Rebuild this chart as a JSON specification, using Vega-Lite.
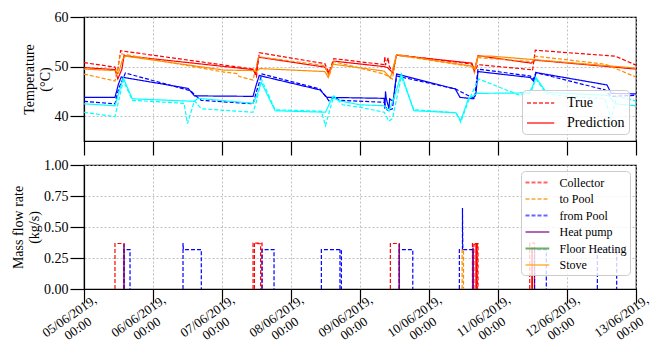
{
"$schema": "https://vega.github.io/schema/vega-lite/v6.json",
"padding": {"left": 10, "top": 9, "right": 5, "bottom": 0},
"background": "white",
"spacing": 0,
"datasets": {
"temp": [
{"s":"T1","k":"Prediction","d":0,"v":49.8},{"s":"T1","k":"Prediction","d":0.449,"v":49.4},{"s":"T1","k":"Prediction","d":0.49,"v":47.5},{"s":"T1","k":"Prediction","d":0.55,"v":49.5},{"s":"T1","k":"Prediction","d":0.58,"v":52.2},{"s":"T1","k":"Prediction","d":2.45,"v":49.4},{"s":"T1","k":"Prediction","d":2.49,"v":48.5},{"s":"T1","k":"Prediction","d":2.53,"v":51.9},{"s":"T1","k":"Prediction","d":3.49,"v":49.9},{"s":"T1","k":"Prediction","d":3.55,"v":48.5},{"s":"T1","k":"Prediction","d":3.62,"v":51.1},{"s":"T1","k":"Prediction","d":4.35,"v":50.0},{"s":"T1","k":"Prediction","d":4.4,"v":49.8},{"s":"T1","k":"Prediction","d":4.47,"v":48.8},{"s":"T1","k":"Prediction","d":4.53,"v":52.3},{"s":"T1","k":"Prediction","d":5.62,"v":50.7},{"s":"T1","k":"Prediction","d":5.66,"v":49.2},{"s":"T1","k":"Prediction","d":5.71,"v":52.2},{"s":"T1","k":"Prediction","d":6.48,"v":50.7},{"s":"T1","k":"Prediction","d":6.54,"v":51.3},{"s":"T1","k":"Prediction","d":8.0,"v":49.5},
{"s":"T1","k":"True","d":0,"v":50.8},{"s":"T1","k":"True","d":0.449,"v":49.9},{"s":"T1","k":"True","d":0.48,"v":48.5},{"s":"T1","k":"True","d":0.53,"v":53.2},{"s":"T1","k":"True","d":2.45,"v":49.5},{"s":"T1","k":"True","d":2.5,"v":48.0},{"s":"T1","k":"True","d":2.54,"v":52.8},{"s":"T1","k":"True","d":3.49,"v":50.6},{"s":"T1","k":"True","d":3.55,"v":48.8},{"s":"T1","k":"True","d":3.62,"v":51.6},{"s":"T1","k":"True","d":4.35,"v":50.4},{"s":"T1","k":"True","d":4.36,"v":52.0},{"s":"T1","k":"True","d":4.37,"v":50.3},{"s":"T1","k":"True","d":4.41,"v":51.8},{"s":"T1","k":"True","d":4.42,"v":50.2},{"s":"T1","k":"True","d":4.48,"v":48.7},{"s":"T1","k":"True","d":4.53,"v":52.4},{"s":"T1","k":"True","d":5.62,"v":50.5},{"s":"T1","k":"True","d":5.66,"v":49.0},{"s":"T1","k":"True","d":5.71,"v":50.4},{"s":"T1","k":"True","d":6.47,"v":49.4},{"s":"T1","k":"True","d":6.5,"v":49.2},{"s":"T1","k":"True","d":6.54,"v":53.3},{"s":"T1","k":"True","d":7.7,"v":52.1},{"s":"T1","k":"True","d":8.0,"v":50.3},
{"s":"T2","k":"Prediction","d":0,"v":49.5},{"s":"T2","k":"Prediction","d":0.449,"v":49.2},{"s":"T2","k":"Prediction","d":0.5,"v":48.7},{"s":"T2","k":"Prediction","d":0.56,"v":51.5},{"s":"T2","k":"Prediction","d":0.6,"v":52.1},{"s":"T2","k":"Prediction","d":2.03,"v":49.3},{"s":"T2","k":"Prediction","d":2.45,"v":49.2},{"s":"T2","k":"Prediction","d":2.5,"v":49.0},{"s":"T2","k":"Prediction","d":2.55,"v":49.6},{"s":"T2","k":"Prediction","d":3.49,"v":49.0},{"s":"T2","k":"Prediction","d":3.54,"v":47.8},{"s":"T2","k":"Prediction","d":3.6,"v":50.5},{"s":"T2","k":"Prediction","d":4.35,"v":49.1},{"s":"T2","k":"Prediction","d":4.44,"v":47.7},{"s":"T2","k":"Prediction","d":4.53,"v":52.4},{"s":"T2","k":"Prediction","d":5.62,"v":50.1},{"s":"T2","k":"Prediction","d":5.66,"v":49.5},{"s":"T2","k":"Prediction","d":5.71,"v":52.1},{"s":"T2","k":"Prediction","d":5.91,"v":52.1},{"s":"T2","k":"Prediction","d":8.0,"v":49.7},
{"s":"T2","k":"True","d":0,"v":48.5},{"s":"T2","k":"True","d":0.449,"v":47.1},{"s":"T2","k":"True","d":0.53,"v":52.6},{"s":"T2","k":"True","d":2.03,"v":48.9},{"s":"T2","k":"True","d":2.22,"v":48.6},{"s":"T2","k":"True","d":2.25,"v":48.0},{"s":"T2","k":"True","d":2.45,"v":47.3},{"s":"T2","k":"True","d":2.53,"v":52.0},{"s":"T2","k":"True","d":3.49,"v":50.2},{"s":"T2","k":"True","d":3.55,"v":48.0},{"s":"T2","k":"True","d":3.62,"v":51.0},{"s":"T2","k":"True","d":4.35,"v":48.5},{"s":"T2","k":"True","d":4.47,"v":47.5},{"s":"T2","k":"True","d":4.53,"v":52.3},{"s":"T2","k":"True","d":5.62,"v":50.0},{"s":"T2","k":"True","d":5.66,"v":48.7},{"s":"T2","k":"True","d":5.71,"v":51.8},{"s":"T2","k":"True","d":6.5,"v":51.0},{"s":"T2","k":"True","d":6.54,"v":52.1},{"s":"T2","k":"True","d":7.55,"v":50.5},{"s":"T2","k":"True","d":8.0,"v":47.9},
{"s":"T3","k":"Prediction","d":0,"v":43.8},{"s":"T3","k":"Prediction","d":0.449,"v":43.8},{"s":"T3","k":"Prediction","d":0.5,"v":46.5},{"s":"T3","k":"Prediction","d":0.54,"v":47.9},{"s":"T3","k":"Prediction","d":1.51,"v":45.6},{"s":"T3","k":"Prediction","d":1.6,"v":44.1},{"s":"T3","k":"Prediction","d":2.45,"v":44.0},{"s":"T3","k":"Prediction","d":2.5,"v":46.5},{"s":"T3","k":"Prediction","d":2.54,"v":48.2},{"s":"T3","k":"Prediction","d":3.42,"v":45.3},{"s":"T3","k":"Prediction","d":3.52,"v":43.8},{"s":"T3","k":"Prediction","d":4.35,"v":43.6},{"s":"T3","k":"Prediction","d":4.36,"v":41.5},{"s":"T3","k":"Prediction","d":4.37,"v":45.0},{"s":"T3","k":"Prediction","d":4.38,"v":43.6},{"s":"T3","k":"Prediction","d":4.42,"v":41.5},{"s":"T3","k":"Prediction","d":4.43,"v":43.5},{"s":"T3","k":"Prediction","d":4.48,"v":43.0},{"s":"T3","k":"Prediction","d":4.53,"v":48.5},{"s":"T3","k":"Prediction","d":5.38,"v":45.5},{"s":"T3","k":"Prediction","d":5.45,"v":43.8},{"s":"T3","k":"Prediction","d":5.64,"v":43.5},{"s":"T3","k":"Prediction","d":5.68,"v":44.5},{"s":"T3","k":"Prediction","d":5.71,"v":49.0},{"s":"T3","k":"Prediction","d":6.47,"v":47.8},{"s":"T3","k":"Prediction","d":6.52,"v":47.0},{"s":"T3","k":"Prediction","d":6.55,"v":48.8},{"s":"T3","k":"Prediction","d":7.58,"v":46.3},{"s":"T3","k":"Prediction","d":7.64,"v":44.6},{"s":"T3","k":"Prediction","d":8.0,"v":44.5},
{"s":"T3","k":"True","d":0,"v":43.0},{"s":"T3","k":"True","d":0.449,"v":42.5},{"s":"T3","k":"True","d":0.5,"v":45.5},{"s":"T3","k":"True","d":0.6,"v":48.7},{"s":"T3","k":"True","d":1.55,"v":45.1},{"s":"T3","k":"True","d":1.62,"v":44.1},{"s":"T3","k":"True","d":1.7,"v":43.2},{"s":"T3","k":"True","d":2.45,"v":42.5},{"s":"T3","k":"True","d":2.5,"v":45.0},{"s":"T3","k":"True","d":2.58,"v":48.5},{"s":"T3","k":"True","d":3.42,"v":45.5},{"s":"T3","k":"True","d":3.55,"v":43.1},{"s":"T3","k":"True","d":3.63,"v":43.9},{"s":"T3","k":"True","d":3.7,"v":43.2},{"s":"T3","k":"True","d":4.35,"v":42.8},{"s":"T3","k":"True","d":4.4,"v":41.1},{"s":"T3","k":"True","d":4.47,"v":41.5},{"s":"T3","k":"True","d":4.53,"v":48.1},{"s":"T3","k":"True","d":5.38,"v":45.5},{"s":"T3","k":"True","d":5.62,"v":43.8},{"s":"T3","k":"True","d":5.66,"v":43.5},{"s":"T3","k":"True","d":5.71,"v":49.5},{"s":"T3","k":"True","d":6.47,"v":48.1},{"s":"T3","k":"True","d":6.51,"v":47.4},{"s":"T3","k":"True","d":6.55,"v":48.8},{"s":"T3","k":"True","d":7.55,"v":45.3},{"s":"T3","k":"True","d":7.64,"v":44.0},{"s":"T3","k":"True","d":8.0,"v":44.2},
{"s":"T4","k":"Prediction","d":0,"v":42.5},{"s":"T4","k":"Prediction","d":0.449,"v":42.1},{"s":"T4","k":"Prediction","d":0.5,"v":44.5},{"s":"T4","k":"Prediction","d":0.57,"v":47.7},{"s":"T4","k":"Prediction","d":0.7,"v":43.5},{"s":"T4","k":"Prediction","d":1.6,"v":43.0},{"s":"T4","k":"Prediction","d":1.65,"v":43.6},{"s":"T4","k":"Prediction","d":2.45,"v":42.6},{"s":"T4","k":"Prediction","d":2.5,"v":44.0},{"s":"T4","k":"Prediction","d":2.57,"v":46.8},{"s":"T4","k":"Prediction","d":2.77,"v":41.1},{"s":"T4","k":"Prediction","d":3.5,"v":40.8},{"s":"T4","k":"Prediction","d":3.6,"v":43.8},{"s":"T4","k":"Prediction","d":3.7,"v":43.1},{"s":"T4","k":"Prediction","d":4.0,"v":42.3},{"s":"T4","k":"Prediction","d":4.35,"v":42.1},{"s":"T4","k":"Prediction","d":4.42,"v":41.0},{"s":"T4","k":"Prediction","d":4.5,"v":44.0},{"s":"T4","k":"Prediction","d":4.6,"v":48.5},{"s":"T4","k":"Prediction","d":4.78,"v":41.1},{"s":"T4","k":"Prediction","d":5.39,"v":40.7},{"s":"T4","k":"Prediction","d":5.46,"v":39.1},{"s":"T4","k":"Prediction","d":5.57,"v":43.5},{"s":"T4","k":"Prediction","d":5.7,"v":44.6},{"s":"T4","k":"Prediction","d":6.45,"v":44.7},{"s":"T4","k":"Prediction","d":6.5,"v":46.0},{"s":"T4","k":"Prediction","d":6.55,"v":47.8},{"s":"T4","k":"Prediction","d":6.7,"v":44.8},{"s":"T4","k":"Prediction","d":7.6,"v":44.2},{"s":"T4","k":"Prediction","d":7.7,"v":42.5},{"s":"T4","k":"Prediction","d":8.0,"v":42.1},
{"s":"T4","k":"True","d":0,"v":40.8},{"s":"T4","k":"True","d":0.449,"v":39.9},{"s":"T4","k":"True","d":0.5,"v":43.0},{"s":"T4","k":"True","d":0.57,"v":47.2},{"s":"T4","k":"True","d":0.7,"v":43.2},{"s":"T4","k":"True","d":1.45,"v":42.6},{"s":"T4","k":"True","d":1.5,"v":38.5},{"s":"T4","k":"True","d":1.6,"v":43.1},{"s":"T4","k":"True","d":1.7,"v":41.5},{"s":"T4","k":"True","d":2.45,"v":40.8},{"s":"T4","k":"True","d":2.5,"v":43.0},{"s":"T4","k":"True","d":2.57,"v":47.5},{"s":"T4","k":"True","d":2.77,"v":41.3},{"s":"T4","k":"True","d":3.44,"v":41.0},{"s":"T4","k":"True","d":3.5,"v":38.1},{"s":"T4","k":"True","d":3.62,"v":44.1},{"s":"T4","k":"True","d":3.75,"v":42.3},{"s":"T4","k":"True","d":4.0,"v":41.8},{"s":"T4","k":"True","d":4.35,"v":40.8},{"s":"T4","k":"True","d":4.42,"v":39.0},{"s":"T4","k":"True","d":4.47,"v":39.5},{"s":"T4","k":"True","d":4.6,"v":48.0},{"s":"T4","k":"True","d":4.78,"v":41.3},{"s":"T4","k":"True","d":5.39,"v":40.7},{"s":"T4","k":"True","d":5.46,"v":38.8},{"s":"T4","k":"True","d":5.57,"v":43.0},{"s":"T4","k":"True","d":5.72,"v":47.5},{"s":"T4","k":"True","d":6.3,"v":44.3},{"s":"T4","k":"True","d":6.47,"v":44.6},{"s":"T4","k":"True","d":6.55,"v":47.5},{"s":"T4","k":"True","d":6.7,"v":44.5},{"s":"T4","k":"True","d":7.0,"v":44.0},{"s":"T4","k":"True","d":7.55,"v":43.5},{"s":"T4","k":"True","d":7.64,"v":39.5},{"s":"T4","k":"True","d":7.72,"v":44.0},{"s":"T4","k":"True","d":8.0,"v":43.1}
],
"flow": [
{"s":"Collector","p":"c1","i":0,"d":0.449,"v":0},{"s":"Collector","p":"c1","i":1,"d":0.449,"v":0.367},{"s":"Collector","p":"c1","i":2,"d":0.58,"v":0.367},{"s":"Collector","p":"c1","i":3,"d":0.58,"v":0},
{"s":"Collector","p":"c2","i":0,"d":2.45,"v":0},{"s":"Collector","p":"c2","i":1,"d":2.45,"v":0.37},{"s":"Collector","p":"c2","i":2,"d":2.58,"v":0.37},{"s":"Collector","p":"c2","i":3,"d":2.58,"v":0},
{"s":"Collector","p":"c2b","i":0,"d":2.47,"v":0},{"s":"Collector","p":"c2b","i":1,"d":2.47,"v":0.365},{"s":"Collector","p":"c2b","i":2,"d":2.56,"v":0.365},{"s":"Collector","p":"c2b","i":3,"d":2.56,"v":0},
{"s":"Collector","p":"c3","i":0,"d":4.44,"v":0},{"s":"Collector","p":"c3","i":1,"d":4.44,"v":0.367},{"s":"Collector","p":"c3","i":2,"d":4.57,"v":0.367},{"s":"Collector","p":"c3","i":3,"d":4.57,"v":0},
{"s":"Collector","p":"c4","i":0,"d":5.63,"v":0},{"s":"Collector","p":"c4","i":1,"d":5.63,"v":0.367},{"s":"Collector","p":"c4","i":2,"d":5.71,"v":0.367},{"s":"Collector","p":"c4","i":3,"d":5.71,"v":0},
{"s":"Collector","p":"c4b","i":0,"d":5.65,"v":0},{"s":"Collector","p":"c4b","i":1,"d":5.65,"v":0.36},{"s":"Collector","p":"c4b","i":2,"d":5.7,"v":0.36},{"s":"Collector","p":"c4b","i":3,"d":5.7,"v":0},
{"s":"Collector","p":"c5","i":0,"d":6.46,"v":0},{"s":"Collector","p":"c5","i":1,"d":6.46,"v":0.37},{"s":"Collector","p":"c5","i":2,"d":6.53,"v":0.37},{"s":"Collector","p":"c5","i":3,"d":6.53,"v":0},
{"s":"from Pool","p":"f1","i":0,"d":0.58,"v":0},{"s":"from Pool","p":"f1","i":1,"d":0.58,"v":0.318},{"s":"from Pool","p":"f1","i":2,"d":0.667,"v":0.318},{"s":"from Pool","p":"f1","i":3,"d":0.667,"v":0},
{"s":"from Pool","p":"f2","i":0,"d":1.435,"v":0},{"s":"from Pool","p":"f2","i":1,"d":1.435,"v":0.37},{"s":"from Pool","p":"f2","i":2,"d":1.44,"v":0.318},{"s":"from Pool","p":"f2","i":3,"d":1.7,"v":0.318},{"s":"from Pool","p":"f2","i":4,"d":1.7,"v":0},
{"s":"from Pool","p":"f3","i":0,"d":2.58,"v":0},{"s":"from Pool","p":"f3","i":1,"d":2.58,"v":0.318},{"s":"from Pool","p":"f3","i":2,"d":2.754,"v":0.318},{"s":"from Pool","p":"f3","i":3,"d":2.754,"v":0},
{"s":"from Pool","p":"f4","i":0,"d":3.44,"v":0},{"s":"from Pool","p":"f4","i":1,"d":3.44,"v":0.318},{"s":"from Pool","p":"f4","i":2,"d":3.73,"v":0.318},{"s":"from Pool","p":"f4","i":3,"d":3.73,"v":0},
{"s":"from Pool","p":"f4b","i":0,"d":3.71,"v":0},{"s":"from Pool","p":"f4b","i":1,"d":3.71,"v":0.318},
{"s":"from Pool","p":"f5","i":0,"d":4.57,"v":0},{"s":"from Pool","p":"f5","i":1,"d":4.57,"v":0.318},{"s":"from Pool","p":"f5","i":2,"d":4.765,"v":0.318},{"s":"from Pool","p":"f5","i":3,"d":4.765,"v":0},
{"s":"from Pool","p":"f6","i":0,"d":5.44,"v":0},{"s":"from Pool","p":"f6","i":1,"d":5.44,"v":0.318},{"s":"from Pool","p":"f6","i":2,"d":5.485,"v":0.318},{"s":"from Pool","p":"f6","i":3,"d":5.485,"v":0.653},{"s":"from Pool","p":"f6","i":4,"d":5.49,"v":0.318},{"s":"from Pool","p":"f6","i":5,"d":5.64,"v":0.318},{"s":"from Pool","p":"f6","i":6,"d":5.64,"v":0},
{"s":"from Pool","p":"f7","i":0,"d":6.53,"v":0},{"s":"from Pool","p":"f7","i":1,"d":6.53,"v":0.318},{"s":"from Pool","p":"f7","i":2,"d":6.7,"v":0.318},{"s":"from Pool","p":"f7","i":3,"d":6.7,"v":0},
{"s":"from Pool","p":"f8","i":0,"d":7.44,"v":0},{"s":"from Pool","p":"f8","i":1,"d":7.44,"v":0.318},{"s":"from Pool","p":"f8","i":2,"d":7.72,"v":0.318},{"s":"from Pool","p":"f8","i":3,"d":7.72,"v":0},
{"s":"to Pool","p":"t1","i":0,"d":5.48,"v":0},{"s":"to Pool","p":"t1","i":1,"d":5.48,"v":0.318},{"s":"to Pool","p":"t1","i":2,"d":5.5,"v":0.318},{"s":"to Pool","p":"t1","i":3,"d":5.5,"v":0},
{"s":"Heat pump","p":"h1","i":0,"d":0.578,"v":0},{"s":"Heat pump","p":"h1","i":1,"d":0.578,"v":0.36},{"s":"Heat pump","p":"h1","i":2,"d":0.582,"v":0.36},{"s":"Heat pump","p":"h1","i":3,"d":0.582,"v":0},
{"s":"Heat pump","p":"h2","i":0,"d":4.566,"v":0},{"s":"Heat pump","p":"h2","i":1,"d":4.566,"v":0.36},{"s":"Heat pump","p":"h2","i":2,"d":4.57,"v":0.36},{"s":"Heat pump","p":"h2","i":3,"d":4.57,"v":0},
{"s":"Heat pump","p":"h3","i":0,"d":5.635,"v":0},{"s":"Heat pump","p":"h3","i":1,"d":5.635,"v":0.33},{"s":"Heat pump","p":"h3","i":2,"d":5.64,"v":0.33},{"s":"Heat pump","p":"h3","i":3,"d":5.64,"v":0}
],
"flowpred": [
{"p":"r1","i":0,"d":5.68,"v":0},{"p":"r1","i":1,"d":5.68,"v":0.367},{"p":"r1","i":2,"d":5.69,"v":0.367},{"p":"r1","i":3,"d":5.69,"v":0},
{"p":"r2","i":0,"d":6.49,"v":0},{"p":"r2","i":1,"d":6.49,"v":0.33},{"p":"r2","i":2,"d":6.5,"v":0.33},{"p":"r2","i":3,"d":6.5,"v":0}
]
},
"vconcat": [
{
"width": 552, "height": 124,
"data": {"name": "temp"},
"mark": {"type": "line", "strokeWidth": 1.2},
"encoding": {
"x": {"field": "d", "type": "quantitative", "scale": {"domain": [0, 8], "nice": false, "zero": false}, "axis": {"values": [0,1,2,3,4,5,6,7,8], "labels": false, "title": null, "grid": true}},
"y": {"field": "v", "type": "quantitative", "scale": {"domain": [35, 60], "nice": false, "zero": false}, "axis": {"values": [40, 50, 60], "format": "d", "title": ["Temperature", "(°C)"], "grid": true, "labelOverlap": false}},
"color": {"field": "s", "type": "nominal", "scale": {"domain": ["T1","T2","T3","T4"], "range": ["#ff0000","#ff8c00","#0000ff","#00ffff"]}, "legend": null},
"strokeDash": {"field": "k", "type": "nominal", "scale": {"domain": ["True","Prediction"], "range": [[4,2],[1,0]]},
 "legend": {"title": null, "orient": "bottom-right", "offset": 7, "labelFont": "Liberation Serif", "labelFontSize": 14, "symbolType": "M-1,0H2.4", "symbolStrokeColor": "#ff0000", "symbolOpacity": 0.6, "symbolStrokeWidth": 2, "symbolSize": 256, "rowPadding": 4, "labelOffset": 23, "padding": 4}}
}
},
{
"width": 552, "height": 124,
"encoding": {
"x": {"field": "d", "type": "quantitative", "scale": {"domain": [0, 8], "nice": false, "zero": false},
 "axis": {"values": [0,1,2,3,4,5,6,7,8], "title": null, "grid": true, "labelExpr": "[['05','06','07','08','09','10','11','12','13'][datum.value] + '/06/2019,', '00:00']", "labelFontSize": 13, "labelAngle": -35, "labelAlign": "center", "labelBaseline": "middle", "labelPadding": 13, "labelOffset": -15, "labelFlush": false, "labelOverlap": false, "labelBound": false, "labelLineHeight": 15}},
"y": {"field": "v", "type": "quantitative", "scale": {"domain": [0, 1], "nice": false, "zero": false}, "axis": {"values": [0, 0.25, 0.5, 0.75, 1], "format": ".2f", "title": ["Mass flow rate", "(kg/s)"], "grid": true, "labelOverlap": false}}
},
"layer": [
{
"data": {"name": "flowpred"},
"mark": {"type": "line", "strokeWidth": 1.2, "color": "#ff0000"},
"encoding": {
"detail": {"field": "p", "type": "nominal"},
"order": {"field": "i", "type": "quantitative"}
}
},
{
"data": {"name": "flow"},
"mark": {"type": "line", "strokeWidth": 1.2},
"encoding": {
"color": {"field": "s", "type": "nominal", "scale": {"domain": ["Collector","to Pool","from Pool","Heat pump","Floor Heating","Stove"], "range": ["#ff0000","#ff8c00","#0000ff","#800080","#008000","#ffa500"]},
 "legend": {"title": null, "orient": "top-right", "offset": 6, "labelFont": "Liberation Serif", "labelFontSize": 12, "symbolType": "M-1,0H2.4", "symbolOpacity": 0.6, "symbolStrokeWidth": 2, "symbolSize": 196, "rowPadding": 2.5, "labelOffset": 19, "padding": 3.5}},
"strokeDash": {"field": "s", "type": "nominal", "scale": {"domain": ["Collector","to Pool","from Pool","Heat pump","Floor Heating","Stove"], "range": [[4,2],[4,2],[4,2],[1,0],[1,0],[1,0]]},
 "legend": {"title": null, "orient": "top-right", "offset": 6, "labelFont": "Liberation Serif", "labelFontSize": 12, "symbolType": "M-1,0H2.4", "symbolOpacity": 0.6, "symbolStrokeWidth": 2, "symbolSize": 196, "rowPadding": 2.5, "labelOffset": 19, "padding": 3.5}},
"detail": {"field": "p", "type": "nominal"},
"order": {"field": "i", "type": "quantitative"}
}
}
]
}
],
"resolve": {"scale": {"color": "independent", "strokeDash": "independent"}},
"config": {
"font": "Liberation Serif",
"view": {"stroke": "#000000", "strokeWidth": 1.2},
"axis": {"labelFont": "Liberation Serif", "labelFontSize": 14, "labelColor": "#000000", "labelPadding": 2, "titleFont": "Liberation Serif", "titleFontSize": 14, "titleFontWeight": "normal", "titleColor": "#000000", "titlePadding": 2, "titleLineHeight": 16, "domainColor": "#000000", "domainWidth": 1.2, "tickColor": "#000000", "tickWidth": 1.2, "tickSize": 14, "gridColor": "#b0b0b0", "gridDash": [2, 2], "gridWidth": 0.8},
"legend": {"labelFont": "Liberation Serif", "labelColor": "#000000", "fillColor": "rgba(255,255,255,0.8)", "strokeColor": "#cccccc", "cornerRadius": 4}
}
}
